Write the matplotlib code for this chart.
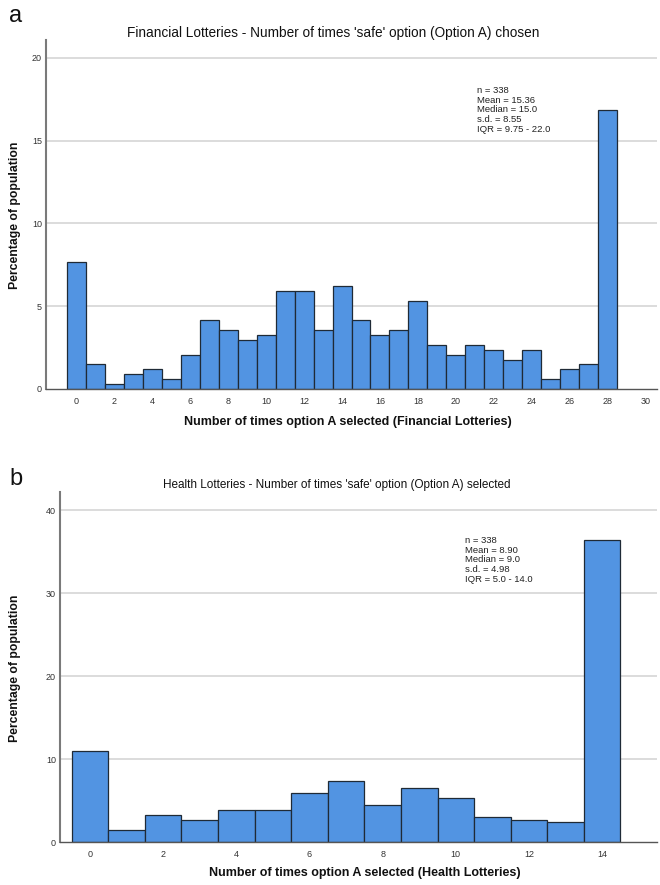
import matplotlib
matplotlib.use("Agg")
import matplotlib.pyplot as plt
import numpy as np

plt.rcParams['font.family'] = ['Liberation Sans', 'DejaVu Sans']

# Financial lotteries: counts (n=338) per number of times option A chosen (0..28)
fin_values = list(range(0, 29))
fin_counts = [26, 5, 1, 3, 4, 2, 7, 14, 12, 10, 11, 20, 20, 12, 21, 14, 11, 12, 18, 9, 7, 9, 8, 6, 8, 2, 4, 5, 57]
fin_ticks = list(range(0, 31, 2))
fin_yticks = [0, 5, 10, 15, 20]

# Health lotteries: counts (n=338) per number of times option A chosen (0..14)
hea_values = list(range(0, 15))
hea_counts = [37, 5, 11, 9, 13, 13, 20, 25, 15, 22, 18, 10, 9, 8, 123]
hea_ticks = list(range(0, 15, 2))
hea_yticks = [0, 10, 20, 30, 40]

fin_stats = "n = 338\nMean = 15.36\nMedian = 15.0\ns.d. = 8.55\nIQR = 9.75 - 22.0"
hea_stats = "n = 338\nMean = 8.90\nMedian = 9.0\ns.d. = 4.98\nIQR = 5.0 - 14.0"

N = 338
W, H = 660, 885
fig = plt.figure(figsize=(6.6, 8.85), dpi=100)

BAR = '#5294E2'
EDGE = '#1f2a36'


def px_rect(l, t, r, b):
    return [l / W, 1 - b / H, (r - l) / W, (b - t) / H]


def panel(rect, values, counts, xticks, yticks, xlim, ylim):
    ax = fig.add_axes(rect)
    pct = np.array(counts) / N * 100
    ax.set_axisbelow(True)
    for y in yticks[1:]:
        ax.axhline(y, color='#d6d6d6', lw=1.2, zorder=0)
    ax.bar(values, pct, width=1.0, color=BAR, edgecolor=EDGE, linewidth=0.9, zorder=2)
    ax.set_xlim(*xlim)
    ax.set_ylim(*ylim)
    ax.set_xticks(xticks)
    ax.set_yticks(yticks)
    ax.tick_params(axis='both', length=0, labelsize=6.5, colors='#333333', pad=6)
    ax.tick_params(axis='y', pad=3)
    for s in ['top', 'right']:
        ax.spines[s].set_visible(False)
    ax.spines['left'].set_color('#7a7a7a')
    ax.spines['left'].set_linewidth(1.5)
    ax.spines['bottom'].set_color('#555555')
    ax.spines['bottom'].set_linewidth(1.0)
    return ax


ax1 = panel(px_rect(46, 40, 657, 389), fin_values, fin_counts, fin_ticks, fin_yticks,
            (-1.58, 30.58), (0, 21.07))
ax2 = panel(px_rect(60, 492, 657, 842), hea_values, hea_counts, hea_ticks, hea_yticks,
            (-0.82, 15.5), (0, 42.2))

# stats text
fig.text(477 / W, 1 - 86 / H, fin_stats, fontsize=6.8, va='top', ha='left',
         color='#222222', linespacing=1.1)
fig.text(465 / W, 1 - 536 / H, hea_stats, fontsize=6.8, va='top', ha='left',
         color='#222222', linespacing=1.1)

# titles
fig.text(333 / W, 1 - 33 / H, "Financial Lotteries - Number of times 'safe' option (Option A) chosen",
         fontsize=9.8, ha='center', va='center', color='#111111')
fig.text(337 / W, 1 - 485 / H, "Health Lotteries - Number of times 'safe' option (Option A) selected",
         fontsize=8.5, ha='center', va='center', color='#111111')

# axis labels
fig.text(348 / W, 1 - 422 / H, "Number of times option A selected (Financial Lotteries)",
         fontsize=9.0, fontweight='bold', ha='center', va='center', color='#111111')
fig.text(365 / W, 1 - 873 / H, "Number of times option A selected (Health Lotteries)",
         fontsize=9.0, fontweight='bold', ha='center', va='center', color='#111111')
fig.text(15 / W, 1 - 215 / H, "Percentage of population", rotation=90,
         fontsize=8.8, fontweight='bold', ha='center', va='center', color='#111111')
fig.text(15 / W, 1 - 668 / H, "Percentage of population", rotation=90,
         fontsize=8.8, fontweight='bold', ha='center', va='center', color='#111111')

# panel letters
fig.text(9 / W, 1 - 16 / H, "a", fontsize=17, ha='left', va='center', color='#111111')
fig.text(9 / W, 1 - 479 / H, "b", fontsize=17, ha='left', va='center', color='#111111')

fig.savefig('out.png', dpi=100)
